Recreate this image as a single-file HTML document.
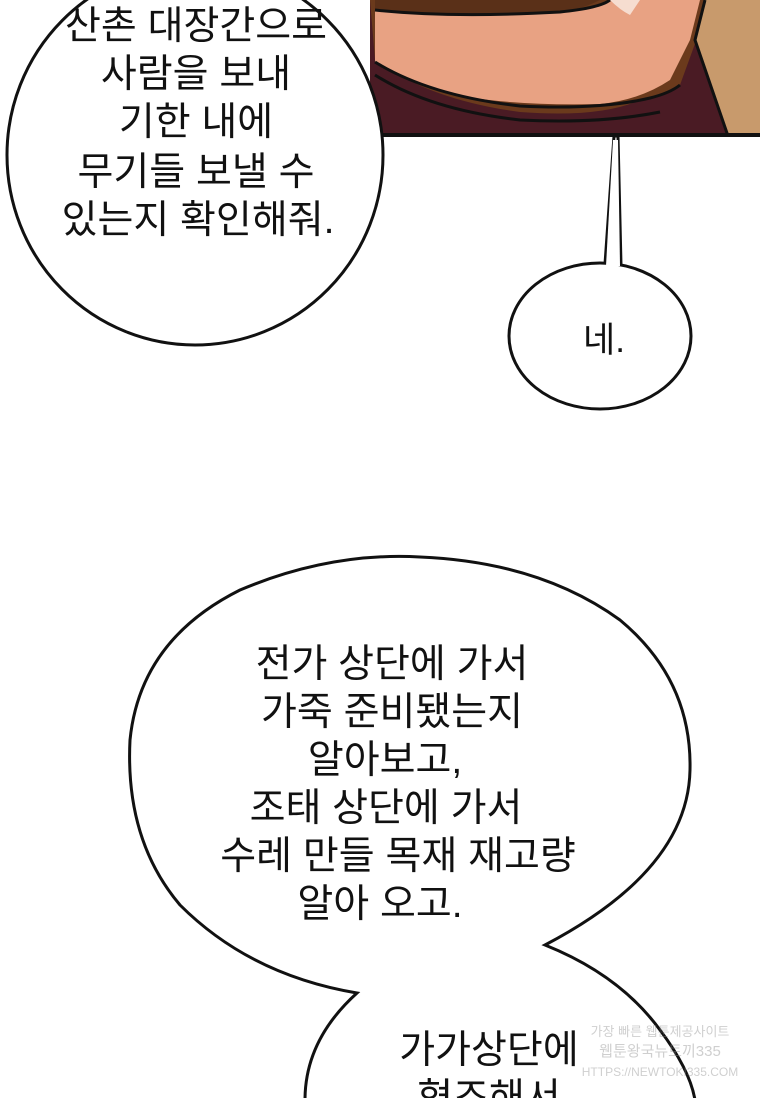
<!DOCTYPE html>
<html><head><meta charset="utf-8"><style>
html,body{margin:0;padding:0;background:#fff;width:760px;height:1098px;overflow:hidden}
svg{display:block}
text{font-family:"Liberation Sans","Noto Sans CJK KR","NanumGothic",sans-serif;font-size:39px;fill:#111;text-anchor:middle}
</style></head><body>
<svg width="760" height="1098" viewBox="0 0 760 1098" xmlns="http://www.w3.org/2000/svg">
<!-- panel -->
<rect x="370" y="0" width="390" height="136" fill="#4a1b24"/>
<path d="M375 60 Q430 100 520 112 Q600 118 640 100 Q665 95 680 85 L700 30 L710 0 L370 0 Z" fill="#6b3a1c"/>
<path d="M375 10 Q450 18 560 12 Q600 8 610 0 L700 0 L690 40 L670 80 Q640 100 600 104 Q520 106 460 96 Q410 86 375 62 Z" fill="#e8a283"/>
<path d="M375 0 L600 0 Q580 10 560 12 Q450 18 375 10 Z" fill="#5a3018"/>
<path d="M610 0 Q620 10 630 15 L640 0 Z" fill="#f6ddd0"/>
<path d="M705 0 L760 0 L760 136 L728 136 L695 40 Z" fill="#c89a6c"/>
<path d="M705 0 L695 40 L728 136" fill="none" stroke="#111" stroke-width="3"/>
<path d="M375 10 Q450 18 560 12 Q600 8 610 0" fill="none" stroke="#111" stroke-width="3"/>
<path d="M375 62 Q430 96 520 106 Q600 110 650 98 Q670 93 680 85" fill="none" stroke="#111" stroke-width="3"/>
<path d="M375 75 Q430 110 520 120 Q600 124 660 112" fill="none" stroke="#111" stroke-width="3"/>
<line x1="370" y1="135" x2="760" y2="135" stroke="#111" stroke-width="4"/>
<!-- top-left bubble -->
<ellipse cx="195" cy="155" rx="188" ry="190" fill="#fff" stroke="#111" stroke-width="3"/>
<text x="196" y="39">산촌 대장간으로</text>
<text x="196" y="87">사람을 보내</text>
<text x="196" y="135">기한 내에</text>
<text x="196" y="185">무기들 보낼 수</text>
<text x="198" y="233">있는지 확인해줘.</text>
<!-- small bubble -->
<path d="M605 264 L614 136 L618 136 L621 265" fill="#fff" stroke="#111" stroke-width="3"/>
<ellipse cx="600" cy="336" rx="91" ry="73" fill="#fff" stroke="#111" stroke-width="3"/>
<path d="M606 266 L613 140 L618 140 L620 266 Z" fill="#fff"/>
<text x="604" y="352" style="font-size:35px">네.</text>
<!-- big bubble -->
<path d="M305 1100 Q305 1040 357 993 Q250 975 180 905 Q125 840 130 740 Q140 640 240 590 Q330 552 420 557 Q540 562 620 620 Q692 680 690 770 Q688 870 545 945 Q620 975 660 1030 Q690 1070 695 1100 Z" fill="#fff" stroke="#111" stroke-width="3"/>
<text x="392" y="677">전가 상단에 가서</text>
<text x="392" y="725">가죽 준비됐는지</text>
<text x="385" y="773">알아보고,</text>
<text x="386" y="821">조태 상단에 가서</text>
<text x="398" y="869">수레 만들 목재 재고량</text>
<text x="380" y="917">알아 오고.</text>
<text x="489" y="1063">가가상단에</text>
<text x="489" y="1111">협조해서</text>
<!-- watermark -->
<g opacity="0.4">
<text x="660" y="1036" style="font-size:13px;fill:#888">가장 빠른 웹툰제공사이트</text>
<text x="660" y="1056" style="font-size:15px;fill:#888">웹툰왕국뉴토끼335</text>
<text x="660" y="1076" style="font-size:12px;fill:#888">HTTPS://NEWTOKI335.COM</text>
</g>
</svg>
</body></html>
